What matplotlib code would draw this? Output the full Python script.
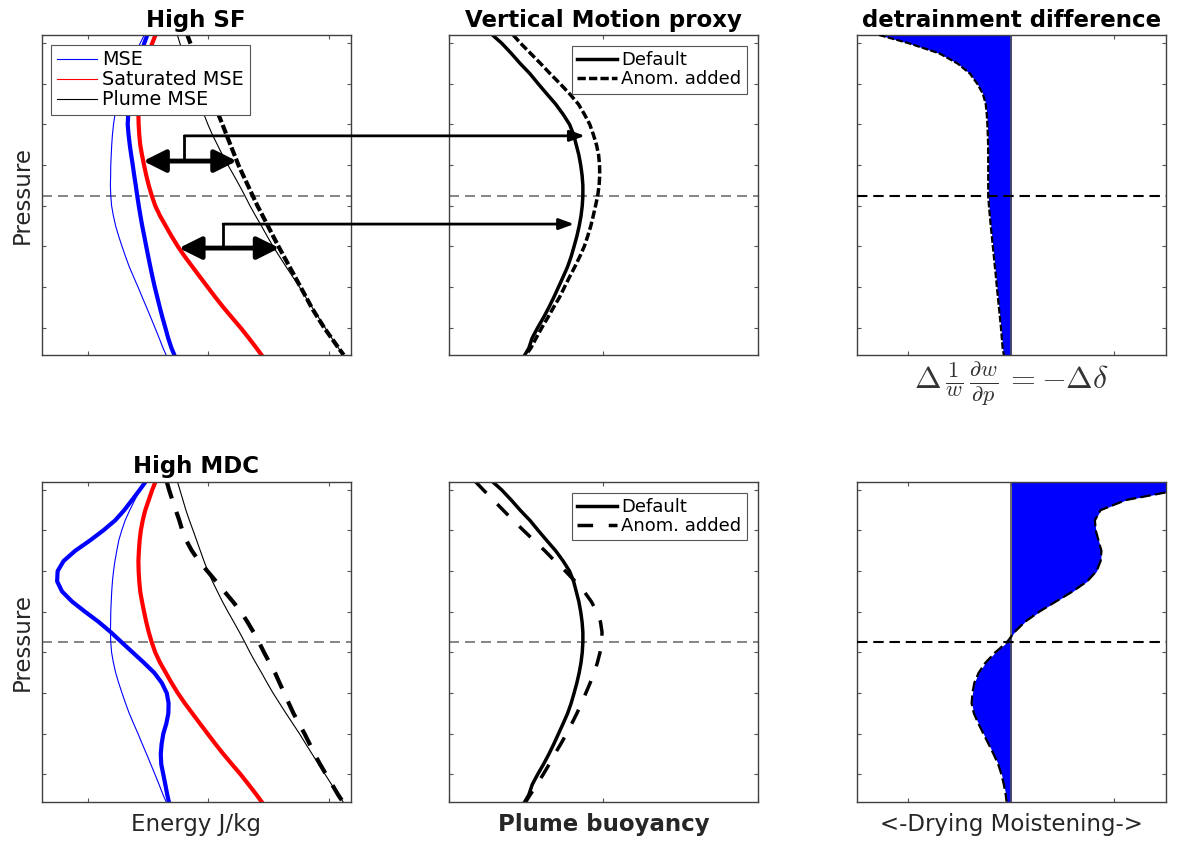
import numpy as np
import matplotlib
matplotlib.use('Agg')
import matplotlib.pyplot as plt
from matplotlib.patches import ConnectionPatch

plt.rcParams['font.family'] = ['DejaVu Sans']
plt.rcParams['mathtext.fontset'] = 'cm'

# pressure levels (hPa) shared by every profile
p = [180, 200, 225, 250, 275, 300, 325, 350, 375, 400, 425, 450, 475, 500, 525, 550, 575,
     600, 625, 650, 675, 700, 725, 750, 775, 800, 825, 850, 875, 900, 925, 950, 967]
p_ref = 575  # dashed reference level

# moist static energy profiles, kJ/kg
mse_default = [334.67, 334.33, 333.88, 333.46, 333.08, 332.79, 332.54, 332.38, 332.23, 332.11, 332.02,
               331.96, 331.92, 331.88, 331.87, 331.85, 331.88, 331.95, 332.10, 332.29, 332.54, 332.82,
               333.11, 333.42, 333.78, 334.15, 334.50, 334.86, 335.21, 335.56, 335.90, 336.23, 336.48]
smse = [335.60, 335.33, 335.04, 334.75, 334.54, 334.38, 334.28, 334.22, 334.18, 334.20, 334.25,
        334.33, 334.48, 334.65, 334.83, 335.04, 335.29, 335.58, 335.98, 336.46, 336.94, 337.46,
        338.04, 338.67, 339.30, 339.94, 340.58, 341.25, 341.96, 342.68, 343.35, 344.00, 344.42]
plume_default = [337.42, 337.63, 337.88, 338.13, 338.42, 338.73, 339.03, 339.33, 339.63, 339.96, 340.33,
                 340.75, 341.17, 341.63, 342.11, 342.58, 343.03, 343.46, 343.93, 344.42, 344.89, 345.38,
                 345.92, 346.46, 347.02, 347.58, 348.10, 348.63, 349.17, 349.71, 350.25, 350.82, 351.19]
# High SF case
mse_sf = [334.92, 334.67, 334.38, 334.13, 333.88, 333.67, 333.53, 333.42, 333.33, 333.29, 333.36,
          333.46, 333.58, 333.71, 333.83, 333.96, 334.08, 334.21, 334.35, 334.50, 334.67, 334.83,
          335.00, 335.17, 335.35, 335.54, 335.75, 335.96, 336.18, 336.42, 336.65, 336.93, 337.17]
plume_sf = [338.25, 338.50, 338.83, 339.17, 339.54, 339.92, 340.21, 340.50, 340.83, 341.17, 341.50,
            341.83, 342.17, 342.50, 342.89, 343.29, 343.68, 344.08, 344.52, 344.96, 345.39, 345.83,
            346.29, 346.75, 347.21, 347.67, 348.13, 348.58, 349.10, 349.63, 350.23, 350.83, 351.25]
# High MDC case
mse_mdc = [334.78, 334.29, 333.65, 333.00, 332.25, 331.25, 330.13, 328.92, 327.96, 327.46, 327.42,
           327.83, 328.67, 329.75, 330.88, 331.88, 332.79, 333.71, 334.63, 335.50, 336.13, 336.54,
           336.69, 336.67, 336.50, 336.25, 336.11, 336.04, 336.08, 336.25, 336.42, 336.58, 336.71]
plume_mdc = [336.54, 336.73, 337.00, 337.29, 337.58, 337.83, 338.17, 338.63, 339.21, 339.92, 340.63,
             341.33, 342.04, 342.71, 343.25, 343.75, 344.21, 344.63, 345.08, 345.54, 345.92, 346.31,
             346.69, 347.08, 347.54, 348.00, 348.42, 348.83, 349.29, 349.79, 350.29, 350.79, 351.17]

# plume buoyancy (arbitrary units)
buoy_default = [-0.718, -0.659, -0.597, -0.539, -0.476, -0.422, -0.366, -0.309, -0.261, -0.219, -0.193,
                -0.176, -0.159, -0.147, -0.138, -0.133, -0.133, -0.137, -0.145, -0.157, -0.172, -0.190,
                -0.209, -0.232, -0.261, -0.291, -0.321, -0.353, -0.388, -0.426, -0.461, -0.483, -0.509]
buoy_sf = [-0.584, -0.537, -0.472, -0.407, -0.345, -0.280, -0.218, -0.162, -0.123, -0.088, -0.065,
           -0.045, -0.031, -0.025, -0.024, -0.028, -0.037, -0.051, -0.066, -0.082, -0.102, -0.124,
           -0.153, -0.185, -0.219, -0.252, -0.284, -0.323, -0.360, -0.399, -0.435, -0.470, -0.502]
buoy_mdc = [-0.828, -0.778, -0.713, -0.649, -0.584, -0.517, -0.448, -0.379, -0.315, -0.246, -0.183,
            -0.125, -0.078, -0.043, -0.019, -0.009, -0.011, -0.022, -0.039, -0.060, -0.086, -0.114,
            -0.142, -0.172, -0.205, -0.239, -0.276, -0.315, -0.351, -0.390, -0.431, -0.474, -0.502]

# detrainment difference
detr_sf = [-1.284, -1.000, -0.702, -0.524, -0.403, -0.332, -0.277, -0.250, -0.240, -0.234, -0.230,
           -0.227, -0.226, -0.226, -0.226, -0.226, -0.226, -0.219, -0.210, -0.201, -0.191, -0.181,
           -0.171, -0.161, -0.151, -0.142, -0.132, -0.122, -0.112, -0.102, -0.094, -0.086, -0.074]
detr_mdc = [1.80, 1.63, 1.113, 0.865, 0.810, 0.819, 0.846, 0.874, 0.866, 0.826, 0.735,
            0.594, 0.429, 0.268, 0.129, 0.029, -0.045, -0.158, -0.252, -0.319, -0.361, -0.379,
            -0.387, -0.365, -0.321, -0.272, -0.223, -0.174, -0.129, -0.097, -0.074, -0.056, -0.048]

# annotation levels for the SF arrows
arrow_p = [490, 704]
link_p = [428, 645]
link_x = [-0.12, -0.19]

fig = plt.figure(figsize=(11.79, 8.42), dpi=100)
lefts = [0.0354, 0.3808, 0.7269]
bottoms = [0.5784, 0.0479]
W, H = 0.262, 0.380
axes = [[fig.add_axes([l, b, W, H]) for l in lefts] for b in bottoms]

label_color = '#262626'


def style(ax, xlim, xticks):
    ax.set_ylim(967, 180)
    ax.set_xlim(*xlim)
    ax.set_yticks(range(200, 901, 100))
    ax.set_xticks(xticks)
    ax.tick_params(direction='in', length=3, width=0.8, color='#555555',
                   top=True, right=True, labelbottom=False, labelleft=False)
    for s in ax.spines.values():
        s.set_color('#404040')
        s.set_linewidth(1.0)


# energy panels
for row, (mse_a, plume_a, dash) in enumerate([(mse_sf, plume_sf, (0, (2.2, 0.7))),
                                              (mse_mdc, plume_mdc, (0, (4.2, 3.4)))]):
    ax = axes[row][0]
    style(ax, (326.14, 351.83), [330, 340, 350])
    ax.axhline(p_ref, color='#707070', lw=1.2, ls=(0, (6, 3.6)), zorder=1)
    h1, = ax.plot(mse_default, p, color='b', lw=0.8, label='MSE')
    h2, = ax.plot(smse, p, color='r', lw=0.8, label='Saturated MSE')
    h3, = ax.plot(plume_default, p, color='k', lw=0.8, label='Plume MSE')
    ax.plot(mse_a, p, color='b', lw=3)
    ax.plot(smse, p, color='r', lw=3)
    ax.plot(plume_a, p, color='k', lw=3, ls=dash)
    ax.set_ylabel('Pressure', fontsize=16.5, color=label_color, labelpad=6)
    if row == 0:
        leg = ax.legend(handles=[h1, h2, h3], loc='upper left', fontsize=13.8,
                        handlelength=2.1, handletextpad=0.25, labelspacing=0.05,
                        borderpad=0.3, borderaxespad=0.5, fancybox=False, framealpha=1)
        leg.get_frame().set_edgecolor('#555555')
        leg.get_frame().set_linewidth(0.8)
        ax.set_title('High SF', fontsize=16.5, fontweight='bold', pad=6)
    else:
        ax.set_title('High MDC', fontsize=16.5, fontweight='bold', pad=6)
        ax.set_xlabel('Energy J/kg', fontsize=16.5, color=label_color, labelpad=8)

# buoyancy panels
for row, (buoy_a, dash) in enumerate([(buoy_sf, (0, (2.4, 0.9))), (buoy_mdc, (0, (4.5, 4.5)))]):
    ax = axes[row][1]
    style(ax, (-1, 1), [-1, 0, 1])
    ax.axhline(p_ref, color='#707070', lw=1.2, ls=(0, (6, 3.6)), zorder=1)
    ax.plot(buoy_default, p, color='k', lw=2.5, label='Default')
    ax.plot(buoy_a, p, color='k', lw=2.5, ls=dash, label='Anom. added')
    leg = ax.legend(loc='upper right', fontsize=13, handlelength=2.2, handletextpad=0.25,
                    labelspacing=0.05, borderpad=0.3, borderaxespad=0.6,
                    fancybox=False, framealpha=1)
    leg.get_frame().set_edgecolor('#555555')
    leg.get_frame().set_linewidth(0.8)
    if row == 0:
        ax.set_title('Vertical Motion proxy', fontsize=16.5, fontweight='bold', pad=6)
    else:
        ax.set_xlabel('Plume buoyancy', fontsize=16.5, fontweight='bold',
                      color=label_color, labelpad=8)

# detrainment panels
for row, (detr, dash) in enumerate([(detr_sf, (0, (3, 1))), (detr_mdc, (0, (4.8, 1.9)))]):
    ax = axes[row][2]
    style(ax, (-1.5, 1.5), [-1, 0, 1])
    ax.fill_betweenx(p, 0, detr, color='b', lw=0, zorder=2)
    ax.axvline(0, color='#555555', lw=1.2, zorder=3)
    ax.plot(detr, p, color='k', lw=1.6, ls=dash, zorder=4)
    ax.axhline(p_ref, color='k', lw=1.5, ls=(0, (5, 2.8)), zorder=5)
    if row == 0:
        ax.set_title('detrainment difference', fontsize=16.5, fontweight='bold', pad=6)
        ax.set_xlabel(r'$\Delta\,\frac{1}{w}\,\frac{\partial w}{\partial p}\, = -\Delta\delta$',
                      fontsize=23, color='#333333', labelpad=4)
    else:
        ax.set_xlabel('<-Drying Moistening->', fontsize=16.5, color=label_color, labelpad=8)

# arrows linking energy gap to buoyancy change
ax_e, ax_b = axes[0][0], axes[0][1]
for pa, pl, xl in zip(arrow_p, link_p, link_x):
    x0 = np.interp(pa, p, smse)
    x1 = np.interp(pa, p, plume_sf)
    ax_e.annotate('', xy=(x1, pa), xytext=(x0, pa),
                  arrowprops=dict(arrowstyle='<|-|>,head_length=0.9,head_width=0.45',
                                  color='k', lw=3.5, shrinkA=0, shrinkB=0, mutation_scale=15))
    xv = x0 + 0.44 * (x1 - x0)
    ax_e.plot([xv, xv], [pa, pl], color='k', lw=2)
    con = ConnectionPatch(xyA=(xv, pl), coordsA='data', axesA=ax_e,
                          xyB=(xl, pl), coordsB='data', axesB=ax_b,
                          arrowstyle='-|>,head_length=0.6,head_width=0.22',
                          color='k', lw=2, mutation_scale=15)
    fig.add_artist(con)

fig.savefig('out.png', dpi=100)
